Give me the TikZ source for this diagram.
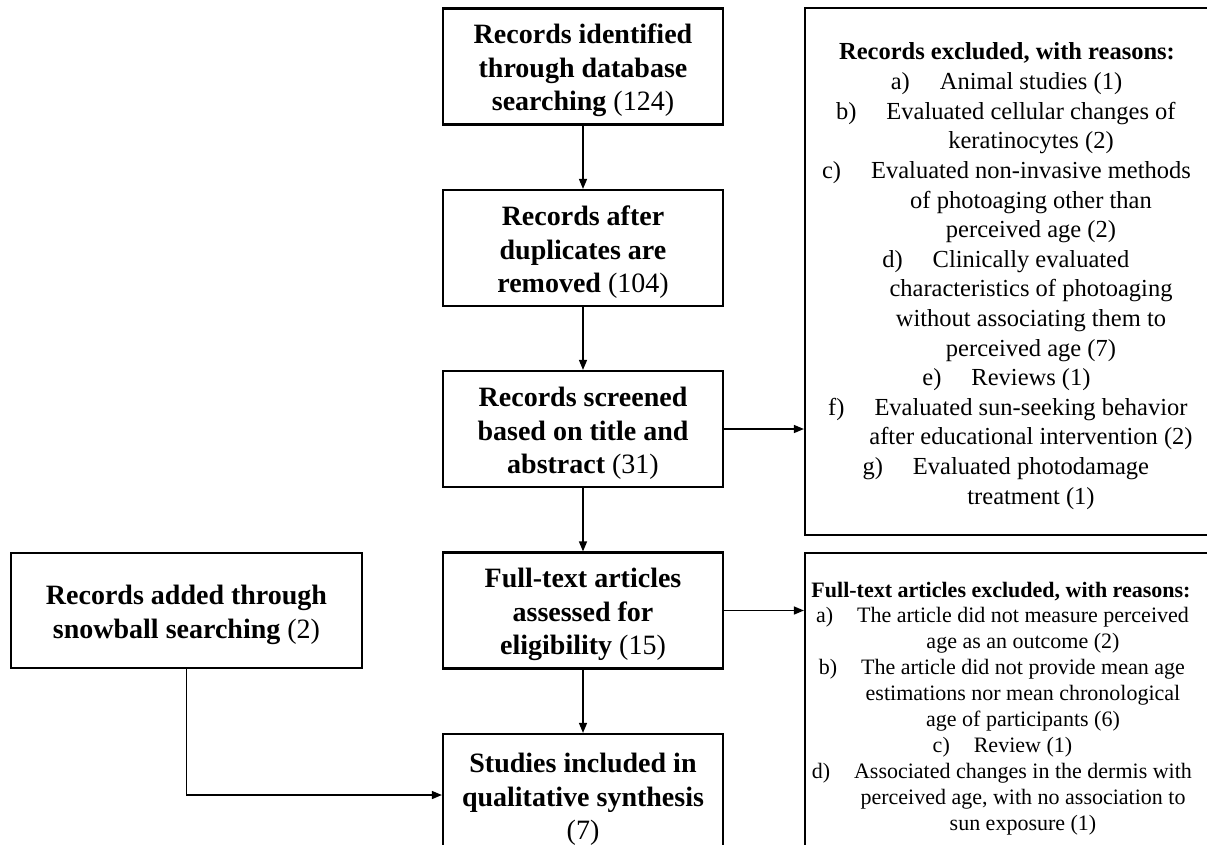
\documentclass[tikz,border=0pt]{standalone}
\usepackage{fontspec}
\setmainfont{Liberation Serif}
\usetikzlibrary{arrows.meta}
\newcommand{\lbl}[2][30pt]{\llap{#2\hspace{#1}}}
\newcommand{\boxstrut}{\rule{0pt}{28pt}}

\begin{document}
\begin{tikzpicture}[x=1pt,y=-1pt,
  box/.style={draw, line width=2.2pt, minimum width=280pt, minimum height=116pt,
    inner sep=0pt, align=center, font=\fontsize{28}{33.5}\selectfont},
  reasonbox/.style={draw, line width=2.2pt, minimum width=415pt, inner sep=0pt},
  link/.style={line width=1.4pt, -{Triangle[length=10pt,width=8pt]}}]
\useasboundingbox (0,0) rectangle (1207,844);
\clip (0,0) rectangle (1207,844);
\node[box] (ident) at (583,66.5) {\boxstrut\textbf{Records identified}\\\textbf{through database}\\\textbf{searching} (124)};
\node[box] (dupl) at (583,248) {\boxstrut\textbf{Records after}\\\textbf{duplicates are}\\\textbf{removed} (104)};
\node[box] (screen) at (583,429) {\boxstrut\textbf{Records screened}\\\textbf{based on title and}\\\textbf{abstract} (31)};
\node[box] (full) at (583,610.5) {\boxstrut\textbf{Full-text articles}\\\textbf{assessed for}\\\textbf{eligibility} (15)};
\node[box, minimum height=122pt] (studies) at (583,795) {\boxstrut\textbf{Studies included in}\\\textbf{qualitative synthesis}\\(7)};
\node[box, minimum width=351pt, minimum height=115pt] (snow) at (186.5,610.5) {\boxstrut\textbf{Records added through}\\\textbf{snowball searching} (2)};
\node[reasonbox, minimum height=527pt] (excl) at (1012.5,271.5) {};
\node[reasonbox, minimum height=317pt] (fullexcl) at (1012.5,711.5) {};
\node[anchor=base, inner sep=0pt, font=\fontsize{24.5}{29.5}\selectfont\bfseries] (exclhead) at (1007,59) {Records excluded, with reasons:};
\node[inner sep=0pt, align=center, font=\fontsize{24.5}{29.6}\selectfont] (excllist) at (1031,291) {%
  \lbl{a)}Animal studies (1)\\
  \lbl{b)}Evaluated cellular changes of\\ keratinocytes (2)\\
  \lbl{c)}Evaluated non-invasive methods\\ of photoaging other than\\ perceived age (2)\\
  \lbl{d)}Clinically evaluated\\ characteristics of photoaging\\ without associating them to\\ perceived age (7)\\
  \lbl{e)}Reviews (1)\\
  \lbl{f)}Evaluated sun-seeking behavior\\ after educational intervention (2)\\
  \lbl{g)}Evaluated photodamage\\ treatment (1)};
\node[anchor=base, inner sep=0pt, font=\fontsize{22}{26}\selectfont\bfseries] (fullhead) at (1001,597) {Full-text articles excluded, with reasons:};
\node[inner sep=0pt, align=center, font=\fontsize{22}{26}\selectfont] (fulllist) at (1023,721.6) {%
  \lbl[24pt]{a)}The article did not measure perceived\\ age as an outcome (2)\\
  \lbl[24pt]{b)}The article did not provide mean age\\ estimations nor mean chronological\\ age of participants (6)\\
  \lbl[24pt]{c)}Review (1)\\
  \lbl[24pt]{d)}Associated changes in the dermis with\\ perceived age, with no association to\\ sun exposure (1)};
\draw[link] (ident) -- (dupl);
\draw[link] (dupl) -- (screen);
\draw[link] (screen) -- (full);
\draw[link] (full) -- (studies);
\draw[link] (screen.east) -- (screen.east -| excl.west);
\draw[link] (full.east) -- (full.east -| fullexcl.west);
\draw[link] (snow.south) |- (studies.west);
\end{tikzpicture}
\end{document}
